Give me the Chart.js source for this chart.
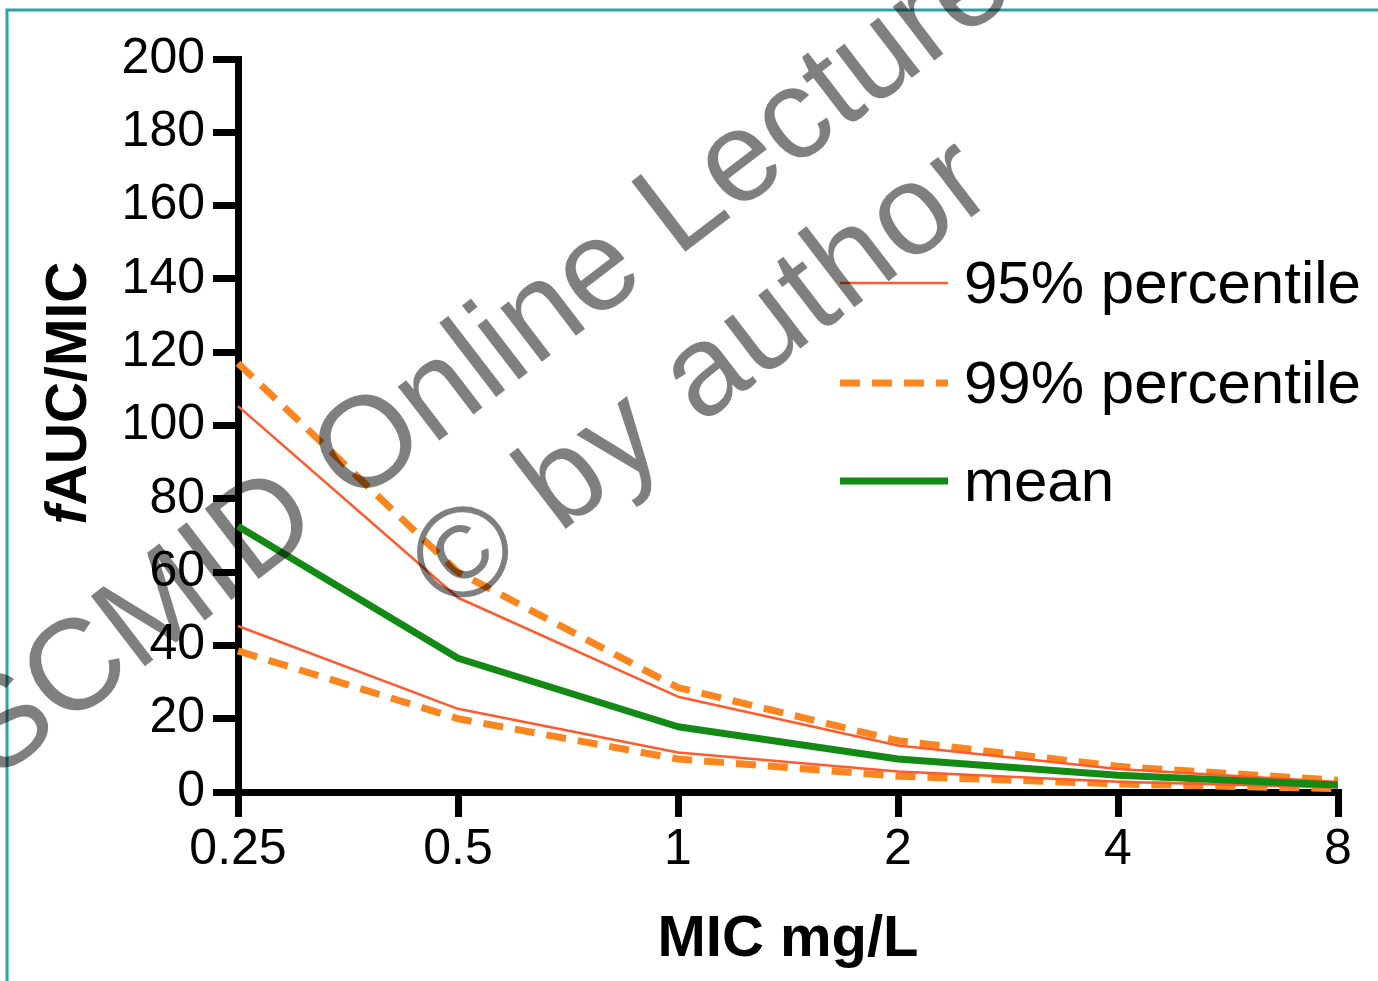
<!DOCTYPE html>
<html>
<head>
<meta charset="utf-8">
<title>fAUC/MIC vs MIC</title>
<script src="https://cdn.jsdelivr.net/npm/chart.js@4.4.1/dist/chart.umd.min.js"></script>
<style>
  html, body { margin: 0; padding: 0; background: #fff; }
  #wrap { width: 1378px; height: 981px; position: relative; }
</style>
</head>
<body>
<div id="wrap"><canvas id="micChart" width="1378" height="981"></canvas></div>
<script>
// values
var micLabels = ['0.25', '0.5', '1', '2', '4', '8'];
var upper99 = [117, 60, 28.5, 14, 7, 3.2];
var upper95 = [105.3, 53, 26, 12.7, 6.3, 2.7];
var meanVals = [72.5, 36.5, 17.8, 9, 4.6, 1.9];
var lower95 = [45.3, 22.7, 10.8, 5.6, 2.8, 1.2];
var lower99 = [38.5, 20, 9, 4.3, 2.2, 0.9];
var yTicks = [0, 20, 40, 60, 80, 100, 120, 140, 160, 180, 200];
var legendLabels = ['95% percentile', '99% percentile', 'mean'];

var FONT = '"Liberation Sans", Arial, Helvetica, sans-serif';
var RED = '#ff5a2e';
var ORANGE = '#fb861f';
var GREEN = '#128a14';
var DASH = [20, 12];

// white page + the teal frame on the top and left
var framePlugin = {
    id: 'frame',
    beforeDraw: function(chart) {
        var ctx = chart.ctx;
        ctx.save();
        ctx.fillStyle = '#fff';
        ctx.fillRect(0, 0, chart.width, chart.height);
        ctx.strokeStyle = '#2ba3a3';
        ctx.lineWidth = 3;
        ctx.beginPath();
        ctx.moveTo(7, chart.height);
        ctx.lineTo(7, 10);
        ctx.lineTo(chart.width, 10);
        ctx.stroke();
        ctx.restore();
    }
};

// y title with an italic f
var yTitlePlugin = {
    id: 'yTitle',
    afterDraw: function(chart) {
        var ctx = chart.ctx;
        ctx.save();
        ctx.translate(68, 393);
        ctx.rotate(-Math.PI / 2);
        ctx.fillStyle = '#000';
        ctx.textBaseline = 'middle';
        ctx.font = 'italic bold 57px ' + FONT;
        var w1 = ctx.measureText('f').width;
        ctx.font = 'bold 57px ' + FONT;
        var w2 = ctx.measureText('AUC/MIC').width;
        var x0 = -(w1 + w2) / 2;
        ctx.font = 'italic bold 57px ' + FONT;
        ctx.fillText('f', x0, 2);
        ctx.font = 'bold 57px ' + FONT;
        ctx.fillText('AUC/MIC', x0 + w1, 2);
        ctx.restore();
    }
};

// legend inside the plot, built from the dataset styles
var legendPlugin = {
    id: 'insideLegend',
    afterDraw: function(chart) {
        var ctx = chart.ctx;
        var sets = [chart.data.datasets[1], chart.data.datasets[3], chart.data.datasets[0]];
        var rowsY = [283, 383, 481];
        ctx.save();
        for (var i = 0; i < legendLabels.length; i++) {
            var ds = sets[i];
            ctx.strokeStyle = ds.borderColor;
            ctx.lineWidth = ds.borderWidth;
            ctx.setLineDash(ds.borderDash || []);
            ctx.beginPath();
            ctx.moveTo(840, rowsY[i]);
            ctx.lineTo(948, rowsY[i]);
            ctx.stroke();
            ctx.setLineDash([]);
            ctx.fillStyle = '#000';
            ctx.font = '60px ' + FONT;
            ctx.textBaseline = 'middle';
            ctx.textAlign = 'left';
            ctx.fillText(legendLabels[i], 964, rowsY[i] + 3);
        }
        ctx.restore();
    }
};

var watermarkPlugin = {
    id: 'watermark',
    afterDraw: function(chart) {
        var ctx = chart.ctx;
        ctx.save();
        ctx.translate(452, 616);
        ctx.rotate(-37.5 * Math.PI / 180);
        ctx.fillStyle = 'rgba(0, 0, 0, 0.5)';
        ctx.font = '129px ' + FONT;
        ctx.textBaseline = 'alphabetic';
        ctx.textAlign = 'left';
        ctx.letterSpacing = '2px';
        ctx.fillText('\u00a9 by author', 0, 0);
        ctx.letterSpacing = '0px';
        ctx.fillText('ESCMID Online Lecture Library', -550, -147);
        ctx.restore();
    }
};

var ctx = document.getElementById('micChart').getContext('2d');
var micChart = new Chart(ctx, {
    type: 'line',
    data: {
        labels: micLabels,
        datasets: [{
            label: 'mean',
            data: meanVals,
            borderColor: GREEN,
            borderWidth: 7
        }, {
            label: '95% percentile',
            data: upper95,
            borderColor: RED,
            borderWidth: 2.5
        }, {
            label: '95% percentile (lower)',
            data: lower95,
            borderColor: RED,
            borderWidth: 2.5
        }, {
            label: '99% percentile',
            data: upper99,
            borderColor: ORANGE,
            borderWidth: 7,
            borderDash: DASH
        }, {
            label: '99% percentile (lower)',
            data: lower99,
            borderColor: ORANGE,
            borderWidth: 7,
            borderDash: DASH
        }]
    },
    options: {
        responsive: false,
        animation: false,
        clip: false,
        elements: {
            point: { radius: 0, hoverRadius: 0 },
            line: { tension: 0, fill: false, borderJoinStyle: 'round' }
        },
        layout: { padding: { top: 59, right: 40, left: 0, bottom: 0 } },
        plugins: {
            legend: { display: false },
            tooltip: { enabled: false }
        },
        scales: {
            x: {
                type: 'category',
                offset: false,
                grid: { drawOnChartArea: false, drawTicks: true, tickLength: 25, lineWidth: 7, color: '#000' },
                border: { display: true, color: '#000', width: 7 },
                ticks: {
                    color: '#000',
                    font: { family: FONT, size: 50, lineHeight: 1.2 },
                    padding: 3,
                    maxRotation: 0,
                    autoSkip: false
                },
                title: {
                    display: true,
                    text: 'MIC mg/L',
                    color: '#000',
                    font: { family: FONT, size: 58, weight: 'bold' },
                    padding: { top: 0, bottom: 6 }
                },
                afterFit: function(scale) { scale.height = 189; }
            },
            y: {
                min: 0,
                max: 200,
                grid: { drawOnChartArea: false, drawTicks: true, tickLength: 25, lineWidth: 7, color: '#000' },
                border: { display: true, color: '#000', width: 7 },
                ticks: {
                    color: '#000',
                    font: { family: FONT, size: 50 },
                    padding: 8
                },
                afterBuildTicks: function(scale) {
                    scale.ticks = yTicks.map(function(v) { return { value: v }; });
                },
                afterFit: function(scale) { scale.width = 238; }
            }
        }
    },
    plugins: [framePlugin, yTitlePlugin, legendPlugin, watermarkPlugin]
});
</script>
</body>
</html>
